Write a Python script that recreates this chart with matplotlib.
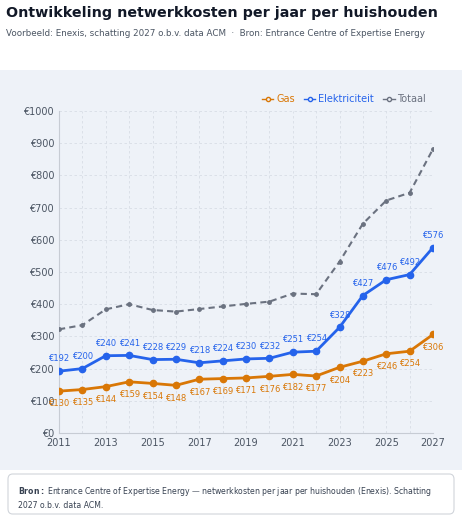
import matplotlib.pyplot as plt
from matplotlib.patches import FancyBboxPatch, Rectangle
from matplotlib.lines import Line2D

years = list(range(2011, 2028))
gas = [130, 135, 144, 159, 154, 148, 167, 169, 171, 176, 182, 177, 204, 223, 246, 254, 306]
elek = [192, 200, 240, 241, 228, 229, 218, 224, 230, 232, 251, 254, 328, 427, 476, 492, 576]
totaal = [322, 335, 384, 400, 382, 377, 385, 393, 401, 408, 433, 431, 532, 650, 722, 746, 882]

C_GAS = '#d97706'
C_EL = '#2563eb'
C_TOT = '#6b7280'
BG = '#eef2f8'

fig = plt.figure(figsize=(4.62, 5.18), dpi=100)
fig.patch.set_facecolor('white')

# chart card background + footer box
fig.patches.append(Rectangle((0, 1 - 470 / 518), 1, (470 - 70) / 518, transform=fig.transFigure,
                             facecolor=BG, edgecolor='none', zorder=-1))
fig.patches.append(FancyBboxPatch((8 / 462, 4 / 518), 446 / 462, 40 / 518, transform=fig.transFigure,
                                  boxstyle='round,pad=0,rounding_size=0.01',
                                  facecolor='white', edgecolor='#d1d5db', lw=0.8))

fig.text(6 / 462, 1 - 13 / 518, 'Ontwikkeling netwerkkosten per jaar per huishouden',
         fontsize=10.3, fontweight='bold', color='#111827', va='center')
fig.text(6 / 462, 1 - 33 / 518,
         'Voorbeeld: Enexis, schatting 2027 o.b.v. data ACM  ·  Bron: Entrance Centre of Expertise Energy',
         fontsize=6.3, color='#4b5563', va='center')
fig.text(18 / 462, 1 - 492 / 518, r'$\bf{Bron:}$ Entrance Centre of Expertise Energy — netwerkkosten per jaar per huishouden (Enexis). Schatting',
         fontsize=5.6, color='#374151', va='center')
fig.text(18 / 462, 1 - 505 / 518, '2027 o.b.v. data ACM.', fontsize=5.6, color='#374151', va='center')

ax = fig.add_axes([59 / 462, 1 - 433 / 518, 374 / 462, 322 / 518])
ax.set_facecolor(BG)
ax.plot(years, totaal, color=C_TOT, lw=1.5, ls=(0, (3, 2)), marker='o', ms=2.5, zorder=3)
ax.plot(years, elek, color=C_EL, lw=2, marker='o', ms=4.5, zorder=4)
ax.plot(years, gas, color=C_GAS, lw=2, marker='o', ms=4.5, zorder=4)

for x, v in zip(years, elek):
    ax.annotate(f'€{v}', (x, v), xytext=(0, 7), textcoords='offset points', ha='center',
                fontsize=6, color=C_EL)
for x, v in zip(years, gas):
    ax.annotate(f'€{v}', (x, v), xytext=(0, -11), textcoords='offset points', ha='center',
                fontsize=6, color=C_GAS)

ax.set_xlim(2011, 2027)
ax.set_ylim(0, 1000)
ax.set_xticks(range(2011, 2028, 2))
ax.set_xticks(range(2011, 2028), minor=True)
ax.set_yticks(range(0, 1001, 100))
ax.set_yticklabels([f'€{v}' for v in range(0, 1001, 100)])
ax.tick_params(labelsize=7, colors='#4b5563', length=0, which='both')
ax.grid(True, which='both', color='#d8dde6', ls=(0, (3, 3)), lw=0.6)
for s in ['top', 'right']:
    ax.spines[s].set_visible(False)
for s in ['left', 'bottom']:
    ax.spines[s].set_color('#c7ccd4')

handles = [Line2D([], [], color=c, marker='o', ms=3, mfc=BG, lw=1) for c in (C_GAS, C_EL, C_TOT)]
leg = ax.legend(handles, ['Gas', 'Elektriciteit', 'Totaal'], loc='lower right',
                bbox_to_anchor=(1.0, 1.0), ncol=3, frameon=False, fontsize=7,
                handlelength=1.2, handletextpad=0.3, columnspacing=0.9, borderaxespad=0.3)
for t, c in zip(leg.get_texts(), (C_GAS, C_EL, C_TOT)):
    t.set_color(c)

fig.savefig('out.png', dpi=100, facecolor='white')
